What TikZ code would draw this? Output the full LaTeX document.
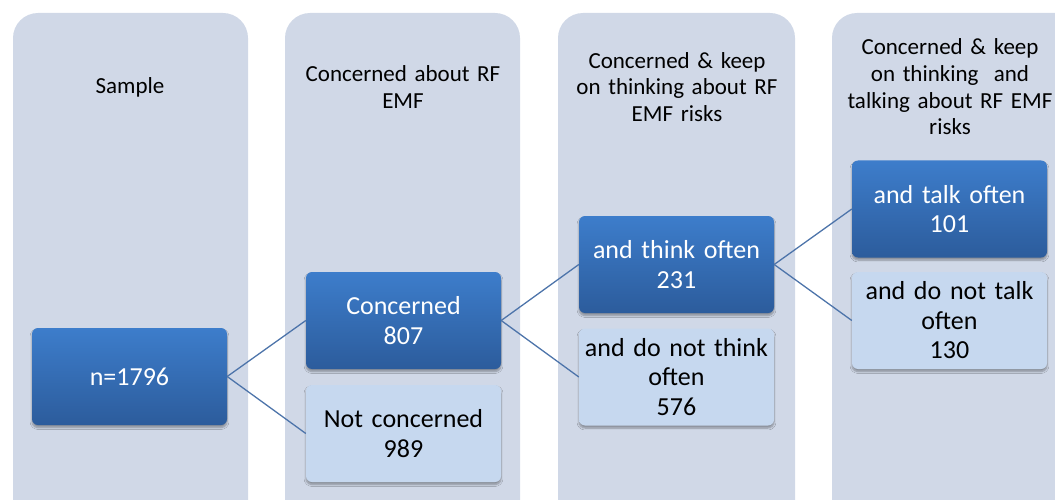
\documentclass[tikz,border=0pt]{standalone}
\usepackage{fontspec}
\setmainfont{Carlito}
\usepackage{tikz}
\usetikzlibrary{shadows.blur}
\definecolor{panelfill}{HTML}{D0D8E7}
\definecolor{boxtop}{HTML}{3D7DCB}
\definecolor{boxbottom}{HTML}{2C5C9C}
\definecolor{boxlight}{HTML}{C6D8EF}
\definecolor{linkblue}{HTML}{4D74AA}

\begin{document}
\begin{tikzpicture}[x=1pt, y=-1pt,
    panel/.style={fill=panelfill, rounded corners=25pt},
    heading/.style={font=\fontsize{23}{26.7}\selectfont, align=center, text width=230pt},
    darkbox/.style={rounded corners=6pt, minimum width=195pt, minimum height=97pt, text width=185pt,
        align=center, inner sep=0pt, top color=boxtop, bottom color=boxbottom, text=white,
        font=\fontsize{26}{29.5}\selectfont,
        blur shadow={shadow xshift=0pt, shadow yshift=-2.5pt, shadow blur steps=6, shadow opacity=35}},
    lightbox/.style={darkbox, top color=boxlight, bottom color=boxlight, text=black},
    link/.style={linkblue, line width=1.3pt}]
    \clip (0,0) rectangle (1055,500);

    % Column panels
    \fill[panel] (13,13) rectangle (248,540);
    \fill[panel] (285,13) rectangle (520,540);
    \fill[panel] (558,13) rectangle (795,540);
    \fill[panel] (832,13) rectangle (1090,540);

    % Column headings
    \node[heading] (hsample) at (130,87) {Sample};
    \node[heading] (hconc) at (403,87) {Concerned about RF\\EMF};
    \node[heading] (hthink) at (677,87) {Concerned \& keep\\on thinking about RF\\EMF risks};
    \node[heading] (htalk) at (950,87) {Concerned \& keep\\on thinking\ \ and\\talking about RF EMF\\risks};

    % Boxes
    \node[darkbox] (sample) at (129.5,376.5) {n=1796};
    \node[darkbox] (conc) at (403.5,320.5) {Concerned\\807};
    \node[lightbox] (notconc) at (403.5,433.5) {Not concerned\\989};
    \node[darkbox] (think) at (676.5,264.5) {and think often\\231};
    \node[lightbox] (nothink) at (676.5,377) {and do not think\\often\\576};
    \node[darkbox] (talk) at (949.5,209) {and talk often\\101};
    \node[lightbox] (notalk) at (949.5,320.5) {and do not talk\\often\\130};

    % Links
    \draw[link] (sample.east) -- (conc.west);
    \draw[link] (sample.east) -- (notconc.west);
    \draw[link] (conc.east) -- (think.west);
    \draw[link] (conc.east) -- (nothink.west);
    \draw[link] (think.east) -- (talk.west);
    \draw[link] (think.east) -- (notalk.west);
\end{tikzpicture}
\end{document}
